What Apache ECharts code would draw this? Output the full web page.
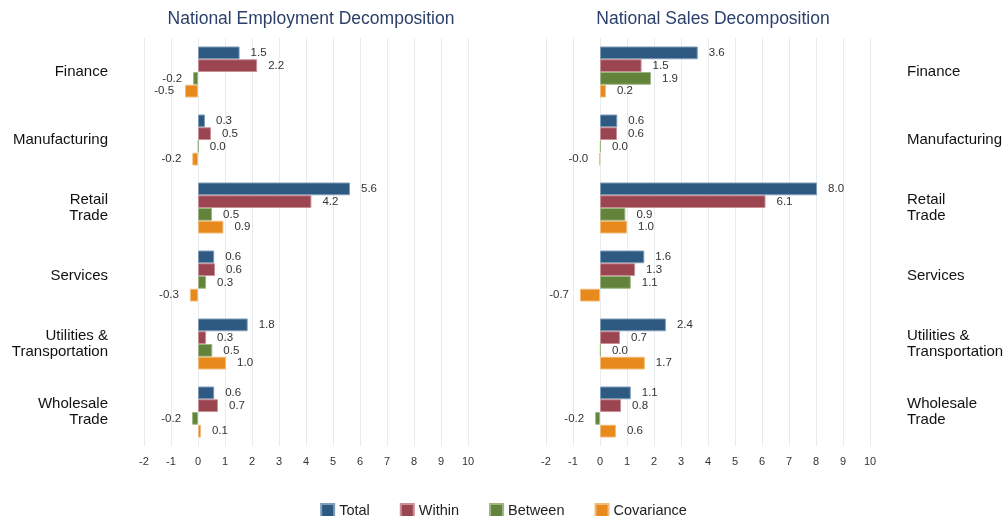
<!DOCTYPE html>
<html>
<head>
<meta charset="utf-8">
<script src="https://cdn.jsdelivr.net/npm/echarts@6/dist/echarts.min.js"></script>
<style>
html,body{margin:0;padding:0;background:#fff;}
#chart{width:1007px;height:516px;}
</style>
</head>
<body>
<div id="chart"></div>
<script>
const categories = ['Finance', 'Manufacturing', 'Retail\nTrade', 'Services', 'Utilities &\nTransportation', 'Wholesale\nTrade'];
const seriesNames = ['Total', 'Within', 'Between', 'Covariance'];
const seriesColors = ['#2E5A81', '#9B4550', '#62843A', '#E8891C'];
const seriesBorders = ['#7E9CB8', '#C79098', '#9DB585', '#F2BA7A'];
const xTicks = [-2, -1, 0, 1, 2, 3, 4, 5, 6, 7, 8, 9, 10];

const empTotal = [1.54, 0.26, 5.63, 0.6, 1.84, 0.6];
const empWithin = [2.19, 0.48, 4.2, 0.63, 0.3, 0.74];
const empBetween = [-0.18, 0.02, 0.52, 0.3, 0.53, -0.22];
const empCovariance = [-0.48, -0.21, 0.94, -0.3, 1.04, 0.11];

const salTotal = [3.62, 0.64, 8.04, 1.64, 2.44, 1.14];
const salWithin = [1.54, 0.63, 6.13, 1.3, 0.74, 0.78];
const salBetween = [1.89, 0.03, 0.94, 1.14, 0.03, -0.18];
const salCovariance = [0.22, -0.02, 1.0, -0.74, 1.66, 0.59];

const empData = [empTotal, empWithin, empBetween, empCovariance];
const salData = [salTotal, salWithin, salBetween, salCovariance];

const FONT = '"Liberation Sans", Arial, sans-serif';
const gridTop = 38, gridH = 408, gridW = 324;

function xAxis(idx) {
  return {
    gridIndex: idx, type: 'value', min: xTicks[0], max: xTicks[xTicks.length - 1], interval: 1,
    axisLine: {show: false}, axisTick: {show: false},
    axisLabel: {fontSize: 11, color: '#333', fontFamily: FONT, margin: 10},
    splitLine: {show: true, lineStyle: {color: '#e6edf0', width: 1}}
  };
}
function yAxis(idx, pos) {
  return {
    gridIndex: idx, type: 'category', data: categories, inverse: true, position: pos,
    axisLine: {show: false}, axisTick: {show: false}, splitLine: {show: false},
    axisLabel: {fontSize: 15, color: '#111', fontFamily: FONT, margin: pos === 'left' ? 36 : 37,
      align: pos === 'left' ? 'right' : 'left', lineHeight: 16}
  };
}
function makeSeries(arrs, idx) {
  return arrs.map((vals, i) => ({
    name: seriesNames[i], type: 'bar', xAxisIndex: idx, yAxisIndex: idx,
    barGap: '0%', barCategoryGap: '25%',
    itemStyle: {color: seriesColors[i], borderColor: seriesBorders[i], borderWidth: 1},
    label: {show: true, distance: 11, fontSize: 11.5, color: '#333', fontFamily: FONT,
      formatter: p => Number(p.value).toFixed(1)},
    data: vals.map(v => ({value: v, label: {position: v < 0 ? 'left' : 'right'}}))
  }));
}

const chart = echarts.init(document.getElementById('chart'));
chart.setOption({
  animation: false,
  textStyle: {fontFamily: FONT},
  title: [
    {text: 'National Employment Decomposition', left: 306, top: 5, textAlign: 'center',
     textStyle: {fontSize: 17.5, fontWeight: 'normal', color: '#2B3F6B', fontFamily: FONT}},
    {text: 'National Sales Decomposition', left: 708, top: 5, textAlign: 'center',
     textStyle: {fontSize: 17.5, fontWeight: 'normal', color: '#2B3F6B', fontFamily: FONT}}
  ],
  legend: {
    data: seriesNames, top: 498, left: 'center', itemWidth: 13, itemHeight: 13, itemGap: 30,
    icon: 'rect', textStyle: {fontSize: 14.5, color: '#222', fontFamily: FONT}
  },
  grid: [
    {left: 144, top: gridTop, width: gridW, height: gridH},
    {left: 546, top: gridTop, width: gridW, height: gridH}
  ],
  xAxis: [xAxis(0), xAxis(1)],
  yAxis: [yAxis(0, 'left'), yAxis(1, 'right')],
  series: makeSeries(empData, 0).concat(makeSeries(salData, 1))
});
</script>
</body>
</html>
